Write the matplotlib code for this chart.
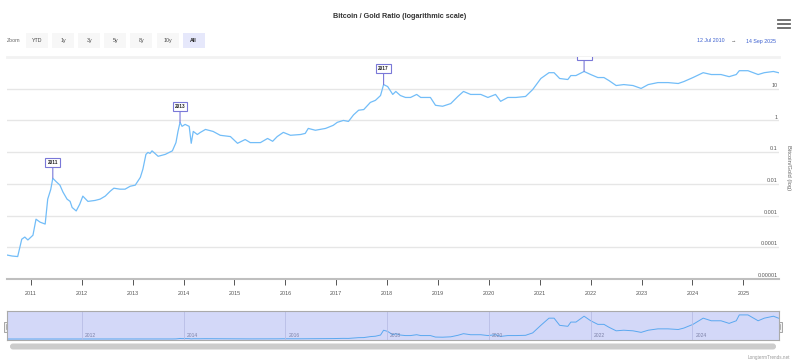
import matplotlib
matplotlib.use("Agg")
import matplotlib.pyplot as plt
from matplotlib.patches import Rectangle, FancyBboxPatch
from matplotlib.lines import Line2D
import matplotlib.transforms as mtransforms

plt.rcParams['font.family'] = ['Liberation Sans', 'DejaVu Sans']

# Bitcoin / gold ratio (x in decimal years)
years = [2010.53, 2010.63, 2010.74, 2010.82, 2010.88, 2010.94, 2011.04, 2011.10, 2011.18, 2011.28,
         2011.33, 2011.39, 2011.43, 2011.49, 2011.57, 2011.63, 2011.71, 2011.77, 2011.81, 2011.89,
         2011.96, 2012.02, 2012.12, 2012.26, 2012.36, 2012.46, 2012.56, 2012.63, 2012.75, 2012.85,
         2012.95, 2013.05, 2013.15, 2013.20, 2013.26, 2013.30, 2013.34, 2013.38, 2013.50, 2013.64,
         2013.78, 2013.85, 2013.89, 2013.93, 2013.97, 2014.03, 2014.11, 2014.15, 2014.19, 2014.27,
         2014.33, 2014.43, 2014.58, 2014.72, 2014.92, 2015.06, 2015.21, 2015.31, 2015.51, 2015.65,
         2015.75, 2015.84, 2015.96, 2016.10, 2016.30, 2016.39, 2016.45, 2016.59, 2016.79, 2016.94,
         2017.02, 2017.14, 2017.24, 2017.34, 2017.44, 2017.54, 2017.67, 2017.77, 2017.87, 2017.93,
         2018.01, 2018.11, 2018.17, 2018.26, 2018.36, 2018.46, 2018.58, 2018.66, 2018.85, 2018.95,
         2019.09, 2019.25, 2019.39, 2019.50, 2019.64, 2019.84, 2019.98, 2020.13, 2020.23, 2020.37,
         2020.53, 2020.72, 2020.86, 2021.02, 2021.18, 2021.28, 2021.39, 2021.55, 2021.61, 2021.71,
         2021.87, 2022.00, 2022.14, 2022.26, 2022.36, 2022.50, 2022.65, 2022.83, 2022.99, 2023.13,
         2023.32, 2023.52, 2023.72, 2023.83, 2024.01, 2024.21, 2024.37, 2024.56, 2024.72, 2024.86,
         2024.92, 2025.09, 2025.29, 2025.41, 2025.59, 2025.69]
ratio = [5.7e-5, 5.3e-5, 5.1e-5, 1.8e-4, 2.1e-4, 1.7e-4, 2.4e-4, 7.7e-4, 6.2e-4, 5.4e-4,
         0.0033, 0.0067, 0.015, 0.012, 0.0091, 0.0055, 0.0033, 0.0028, 0.0018, 0.0014,
         0.0023, 0.0041, 0.0028, 0.0030, 0.0033, 0.0041, 0.0059, 0.0073, 0.0068, 0.0068,
         0.0084, 0.0091, 0.016, 0.029, 0.085, 0.098, 0.091, 0.11, 0.074, 0.085,
         0.11, 0.20, 0.45, 0.87, 0.65, 0.75, 0.65, 0.19, 0.45, 0.36,
         0.42, 0.52, 0.45, 0.34, 0.31, 0.19, 0.25, 0.20, 0.20, 0.27,
         0.22, 0.31, 0.42, 0.34, 0.36, 0.39, 0.56, 0.49, 0.56, 0.70,
         0.87, 1.0, 0.93, 1.5, 2.1, 2.2, 3.7, 4.3, 6.1, 13.5,
         11.7, 6.6, 8.2, 6.1, 5.3, 5.3, 6.6, 5.3, 5.3, 3.0,
         2.8, 3.4, 5.7, 8.2, 6.6, 6.6, 5.3, 6.6, 4.0, 5.3,
         5.3, 5.7, 9.4, 21, 32, 32, 21, 19.5, 26, 26,
         35, 28, 22.5, 22.5, 18, 12.6, 13.5, 12.6, 10.2, 13.5,
         15.6, 15.6, 14.6, 16.8, 22.5, 32, 28, 28, 24, 28,
         37, 37, 28, 32, 35, 32]

flag_labels = ["2011", "2013", "2017", "2021"]
flag_years = [2011.43, 2013.93, 2017.93, 2021.87]

tick_years = list(range(2011, 2026))
nav_years = [2012, 2014, 2016, 2018, 2020, 2022, 2024]
ytick_vals = [10, 1, 0.1, 0.01, 0.001, 0.0001, 0.00001]
ytick_text = ["10", "1", "0.1", "0.01", "0.001", "0.0001", "0.00001"]
zoom_buttons = ["YTD", "1y", "3y", "5y", "8y", "10y", "All"]

W, H = 800, 363
line_color = "#72bdf8"
flag_color = "#7a78d8"


def px_rect(x0, y0, x1, y1):
    return [x0 / W, 1 - y1 / H, (x1 - x0) / W, (y1 - y0) / H]


fig = plt.figure(figsize=(W / 100, H / 100), dpi=100)

# overlay in pixel units for the chrome around the chart
deco = fig.add_axes([0, 0, 1, 1], zorder=-1)
deco.set_xlim(0, W)
deco.set_ylim(H, 0)
deco.axis("off")

fig.text(0.5, 1 - 16 / H, "Bitcoin / Gold Ratio (logarithmic scale)", ha="center", va="center",
         fontsize=5.2, fontweight="bold", color="#333333")

# hamburger menu
for yy in [19.5, 23.5, 27.5]:
    deco.add_line(Line2D([778, 790], [yy, yy], color="#666666", lw=1.3))

# range selector
deco.text(7, 41, "Zoom", fontsize=3.8, color="#666666", va="center", ha="left")
for i, lab in enumerate(zoom_buttons):
    x0 = 26 + i * 26.1
    sel = lab == "All"
    deco.add_patch(Rectangle((x0, 33), 22, 15, facecolor="#e6e8fb" if sel else "#f7f7f7",
                             edgecolor="none"))
    deco.text(x0 + 11, 40.8, lab, fontsize=3.8, ha="center", va="center",
              color="#222222" if sel else "#444444", fontweight="bold" if sel else "normal")
deco.text(697, 41, "12 Jul 2010", fontsize=3.8, color="#3b5fcf", va="center", ha="left")
deco.text(734, 41, "\u2192", fontsize=3.8, color="#666666", va="center", ha="center")
deco.text(776, 41, "14 Sep 2025", fontsize=3.8, color="#3b5fcf", va="center", ha="right")

# main chart
ax = fig.add_axes(px_rect(7, 57, 779, 279))
ax.plot(years, ratio, color=line_color, lw=0.9, zorder=3)
ax.set_yscale("log")
ax.set_ylim(1e-5, 1e2)
ax.set_xlim(2010.53, 2025.70)
ax.set_yticks(ytick_vals)
ax.yaxis.set_minor_locator(matplotlib.ticker.NullLocator())
ax.tick_params(axis="y", length=0, labelleft=False)
ax.grid(axis="y", color="#e6e6e6", lw=1)
ax.set_axisbelow(True)
ax.set_xticks(tick_years)
ax.set_xticklabels([str(y) for y in tick_years])
ax.tick_params(axis="x", length=4.5, width=0.7, color="#555555", labelsize=3.9,
               labelcolor="#555555", pad=4)
for s in ["left", "right"]:
    ax.spines[s].set_visible(False)
ax.spines["top"].set_color("#f2f2f2")
ax.spines["top"].set_linewidth(2)
ax.spines["bottom"].set_color("#bfbfbf")
ax.spines["bottom"].set_linewidth(1.5)

trans = mtransforms.blended_transform_factory(ax.transAxes, ax.transData)
for v, t in zip(ytick_vals, ytick_text):
    ax.annotate(t, xy=(1, v), xycoords=trans, xytext=(-1, 0.6), textcoords="offset points",
                ha="right", va="bottom", fontsize=3.9, color="#555555")
fig.text(788 / W, 1 - 168 / H, "Bitcoin/Gold (log)", rotation=270, ha="center", va="center",
         fontsize=4.2, color="#666666")

for lab, fy in zip(flag_labels, flag_years):
    fv = ratio[years.index(fy)]
    ax.annotate(lab, xy=(fy, fv), xytext=(0, 11.5), textcoords="offset points",
                ha="center", va="center", fontsize=3.4, fontweight="bold", color="#222222",
                bbox=dict(boxstyle="square,pad=0.45", fc="white", ec=flag_color, lw=0.8),
                arrowprops=dict(arrowstyle="-", color=flag_color, lw=0.8, shrinkA=0, shrinkB=0),
                clip_on=True, zorder=5)

# navigator
nav = fig.add_axes(px_rect(7, 311, 779, 340))
nav.set_facecolor("#d3d8f8")
nav.plot(years, ratio, color="#5aa8f0", lw=0.7)
nav.set_xlim(2010.53, 2025.70)
nav.set_ylim(-1.5, 43)
nav.set_xticks([])
nav.set_yticks([])
for s in nav.spines.values():
    s.set_color("#aaaaaa")
    s.set_linewidth(0.8)
for y in nav_years:
    nav.axvline(y, color="#b8bde6", lw=0.6)
    nav.text(y + 0.06, 2, str(y), fontsize=3.6, color="#7d82a8", ha="left", va="bottom")

# navigator handles
for hx in [7, 779]:
    deco.add_patch(Rectangle((hx - 3, 321.5), 6, 10, facecolor="#f2f2f2", edgecolor="#999999",
                             lw=0.6, zorder=10))
    deco.add_line(Line2D([hx - 1, hx - 1], [324, 329], color="#999999", lw=0.5, zorder=11))
    deco.add_line(Line2D([hx + 1, hx + 1], [324, 329], color="#999999", lw=0.5, zorder=11))

# scrollbar
deco.add_patch(FancyBboxPatch((10, 343.5), 766, 6, boxstyle="round,pad=0,rounding_size=3",
                              facecolor="#cccccc", edgecolor="none"))

fig.text(790 / W, 1 - 357 / H, "LongtermTrends.net", ha="right", va="center",
         fontsize=3.3, color="#999999")

fig.savefig("out.png", dpi=100)
